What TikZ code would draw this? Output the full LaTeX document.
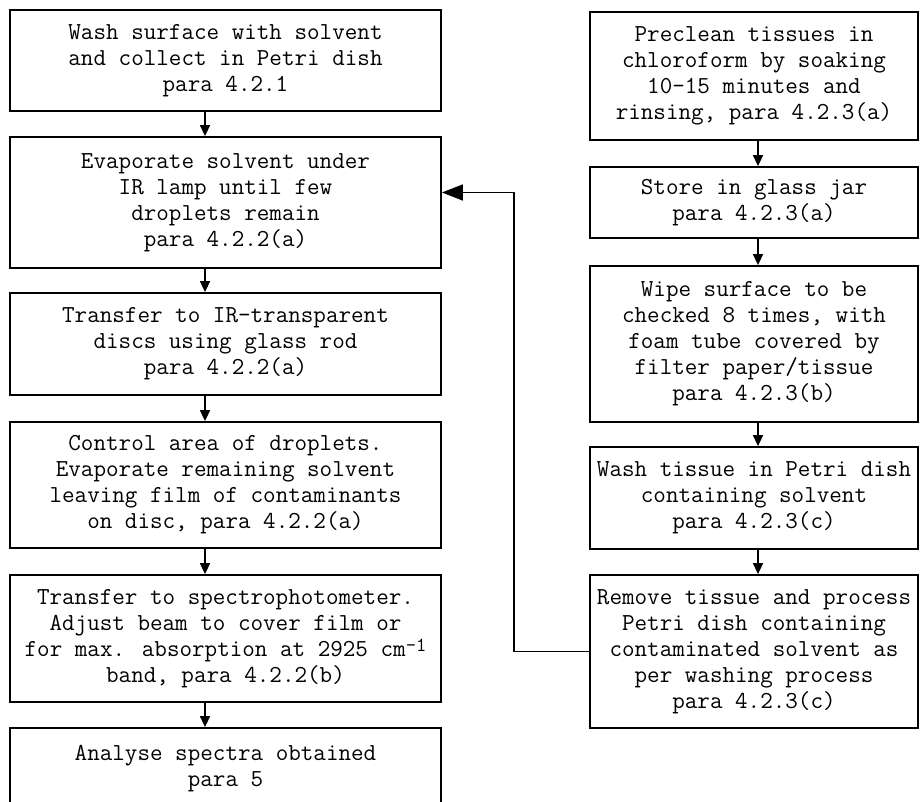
\documentclass[tikz,border=0pt]{standalone}
\usepackage{fontspec}
\usetikzlibrary{arrows.meta}

\newcommand{\invcm}{cm\raisebox{0.5ex}{\fontsize{20}{20}\selectfont -1}}

\begin{document}
\begin{tikzpicture}[x=1pt,y=-1pt,
    stage/.style={draw,line width=1.8pt,inner sep=0pt,align=center,
      font=\ttfamily\addfontfeatures{FakeBold=0.6}\fontsize{24.4}{26}\selectfont},
    lstage/.style={stage,minimum width=431pt},
    rstage/.style={stage,minimum width=328pt},
    flow/.style={line width=1.6pt,-{Triangle[length=11pt,width=10pt]}},
    back/.style={line width=1.6pt,-{Triangle[length=21pt,width=16pt]}}] % washing and wiping routes
    \useasboundingbox (0,0) rectangle (920,802);
    \clip (0,0) rectangle (920,802);
    % left column
    \node (wash) at (225.5,60.5) [lstage,minimum height=101pt] {Wash surface with solvent\\
      and collect in Petri dish\\ para 4.2.1};
    \node (evap) at (225.5,202.5) [lstage,minimum height=131pt] {Evaporate solvent under\\
      IR lamp until few\\ droplets remain\\ para 4.2.2(a)};
    \node (transfer) at (225.5,344) [lstage,minimum height=102pt] {Transfer to IR-transparent\\
      discs using glass rod\\ para 4.2.2(a)};
    \node (control) at (225.5,485) [lstage,minimum height=126pt] {Control area of droplets.\\
      Evaporate remaining solvent\\ leaving film of contaminants\\ on disc, para 4.2.2(a)};
    \node (spectro) at (225.5,638.5) [lstage,minimum height=127pt] {Transfer to spectrophotometer.\\
      Adjust beam to cover film or\\ for max. absorption at 2925 \invcm\\
      band, para 4.2.2(b)};
    \node (analyse) at (225.5,769) [lstage,minimum height=82pt] {Analyse spectra obtained\\
      para 5};
    % right column
    \node (preclean) at (754,76) [rstage,minimum height=128pt] {Preclean tissues in\\
      chloroform by soaking\\ 10-15 minutes and\\ rinsing, para 4.2.3(a)};
    \node (store) at (754,202.5) [rstage,minimum height=71pt] {Store in glass jar\\
      para 4.2.3(a)};
    \node (wipe) at (754,344) [rstage,minimum height=156pt] {Wipe surface to be\\
      checked 8 times, with\\ foam tube covered by\\ filter paper/tissue\\ para 4.2.3(b)};
    \node (washtissue) at (754,498) [rstage,minimum height=102pt] {Wash tissue in Petri dish\\
      containing solvent\\ para 4.2.3(c)};
    \node (remove) at (754,651.5) [rstage,minimum height=153pt] {Remove tissue and process\\
      Petri dish containing\\ contaminated solvent as\\ per washing process\\ para 4.2.3(c)};
    \draw[flow] ([xshift=-20.5pt]wash.south) -- ([xshift=-20.5pt]evap.north);
    \draw[flow] ([xshift=-20.5pt]evap.south) -- ([xshift=-20.5pt]transfer.north);
    \draw[flow] ([xshift=-20.5pt]transfer.south) -- ([xshift=-20.5pt]control.north);
    \draw[flow] ([xshift=-20.5pt]control.south) -- ([xshift=-20.5pt]spectro.north);
    \draw[flow] ([xshift=-20.5pt]spectro.south) -- ([xshift=-20.5pt]analyse.north);
    \draw[flow] ([xshift=4pt]preclean.south) -- ([xshift=4pt]store.north);
    \draw[flow] ([xshift=4pt]store.south) -- ([xshift=4pt]wipe.north);
    \draw[flow] ([xshift=4pt]wipe.south) -- ([xshift=4pt]washtissue.north);
    \draw[flow] ([xshift=4pt]washtissue.south) -- ([xshift=4pt]remove.north);
    \draw[back] (remove.west) -- ++(-75,0) |- ([yshift=10pt]evap.east);
  \end{tikzpicture}
\end{document}
